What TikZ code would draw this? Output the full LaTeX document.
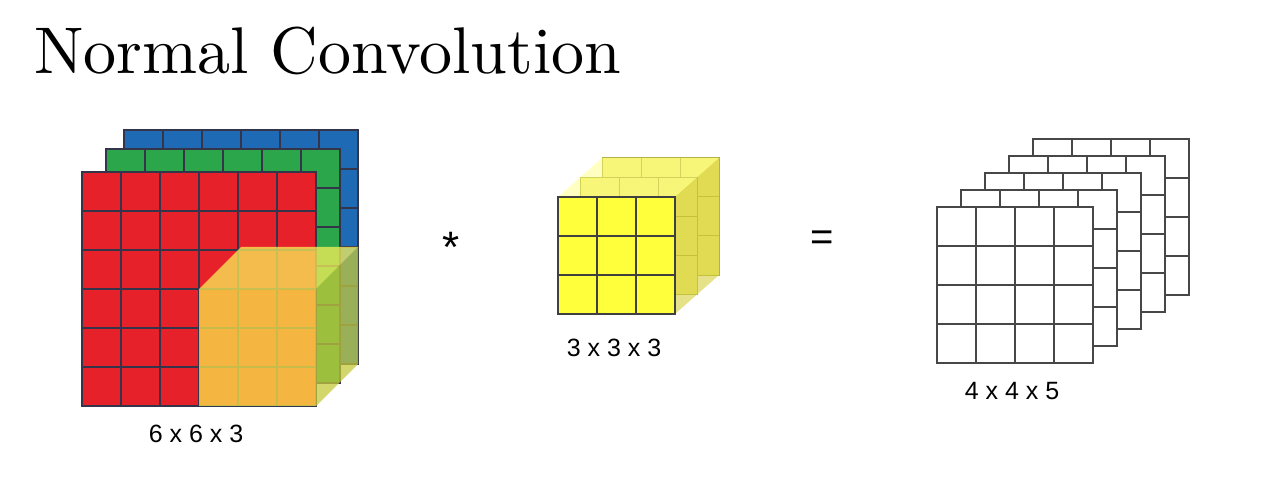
\documentclass[tikz,border=0pt]{standalone}
\usepackage{fontspec}
\newfontfamily\labelfont{Liberation Sans}
\newfontfamily\titlefont{lmroman10-regular.otf}
\definecolor{convred}{HTML}{E62129}
\definecolor{convgreen}{HTML}{2BA64A}
\definecolor{convblue}{HTML}{1F6AB4}
\definecolor{gridline}{HTML}{34344A}
\definecolor{patchfront}{RGB}{249,233,73}
\definecolor{patchtop}{RGB}{248,240,90}
\definecolor{patchside}{RGB}{195,200,58}
\definecolor{kernyellow}{HTML}{FFFF3C}
\definecolor{kernback}{HTML}{F4F07A}
\definecolor{kernside}{HTML}{D4CE3A}
\definecolor{outline}{HTML}{474747}
\tikzset{font={\fontsize{25pt}{25}\selectfont}}
\tikzset{
	cellline/.style={draw=gridline, line width=1.6pt},
	kernline/.style={draw=black!75, line width=1.5pt},
	backline/.style={draw=kernside!80!black!90, line width=1pt},
	outline/.style={draw=outline, line width=1.5pt},
	dimlabel/.style={font=\labelfont\fontsize{25pt}{25}\selectfont, inner sep=0pt},
}

\begin{document}
\begin{tikzpicture}[x=1pt, y=-1pt]
		\useasboundingbox (0,0) rectangle (1265,494);
		%Title
		\node[anchor=base west, inner sep=0pt, font=\titlefont\fontsize{66pt}{70}\selectfont] (title) at (34,74) {Normal Convolution};
		%Input layers 6x6, back to front
		\foreach \dx/\dy/\col in {42/42/convblue, 24/23/convgreen, 0/0/convred}
		{
		\begin{scope}[shift={(82+\dx,172-\dy)}]
		\fill[\col] (0,0) rectangle (234,234);
		\foreach \i in {1,...,5}
		{
		\draw[cellline] (39*\i,0) -- (39*\i,234);
		\draw[cellline] (0,39*\i) -- (234,39*\i);
		}
		\draw[cellline, line width=2pt] (0,0) rectangle (234,234);
		\end{scope}
		}
		%Filter patch over the input
		\fill[patchtop, fill opacity=0.75] (199,289) -- (241,247) -- (358,247) -- (316,289) -- cycle;
		\fill[patchside, fill opacity=0.75] (316,289) -- (358,247) -- (358,364) -- (316,406) -- cycle;
		\fill[patchfront, fill opacity=0.75] (199,289) rectangle (316,406);
		%Filter 3x3x3, back layers
		\foreach \d in {2,1}
		{
		\begin{scope}[shift={(558+22*\d,197-19.5*\d)}]
		\fill[kernback] (0,0) rectangle (117,117);
		\foreach \i in {1,2}
		{
		\draw[backline] (39*\i,0) -- (39*\i,117);
		\draw[backline] (0,39*\i) -- (117,39*\i);
		}
		\draw[backline] (0,0) rectangle (117,117);
		\end{scope}
		}
		%Filter sides
		\fill[kernyellow!70!white, fill opacity=0.45] (558,197) -- (602,158) -- (719,158) -- (675,197) -- cycle;
		\fill[kernside, fill opacity=0.6] (675,197) -- (719,158) -- (719,275) -- (675,314) -- cycle;
		%Filter front
		\fill[kernyellow] (558,197) rectangle (675,314);
		\foreach \i in {1,2}
		{
		\draw[kernline] (558+39*\i,197) -- (558+39*\i,314);
		\draw[kernline] (558,197+39*\i) -- (675,197+39*\i);
		}
		\draw[kernline] (558,197) rectangle (675,314);
		%Output layers 4x4, back to front
		\foreach \k in {4,3,...,0}
		{
		\begin{scope}[shift={(937+24*\k,207-17*\k)}]
		\fill[white] (0,0) rectangle (156,156);
		\foreach \i in {1,2,3}
		{
		\draw[outline] (39*\i,0) -- (39*\i,156);
		\draw[outline] (0,39*\i) -- (156,39*\i);
		}
		\draw[outline] (0,0) rectangle (156,156);
		\end{scope}
		}
		%Operators
		\node[dimlabel, anchor=base, font=\labelfont\fontsize{44pt}{44}\selectfont] (star) at (451,262) {*};
		\node[dimlabel, anchor=base, font=\labelfont\fontsize{40pt}{40}\selectfont] (equals) at (822,251) {=};
		%Size labels
		\node[dimlabel] (inputsize) at (196,434) {6 x 6 x 3};
		\node[dimlabel] (filtersize) at (614,348) {3 x 3 x 3};
		\node[dimlabel] (outputsize) at (1012,391) {4 x 4 x 5};
		\end{tikzpicture}
\end{document}
